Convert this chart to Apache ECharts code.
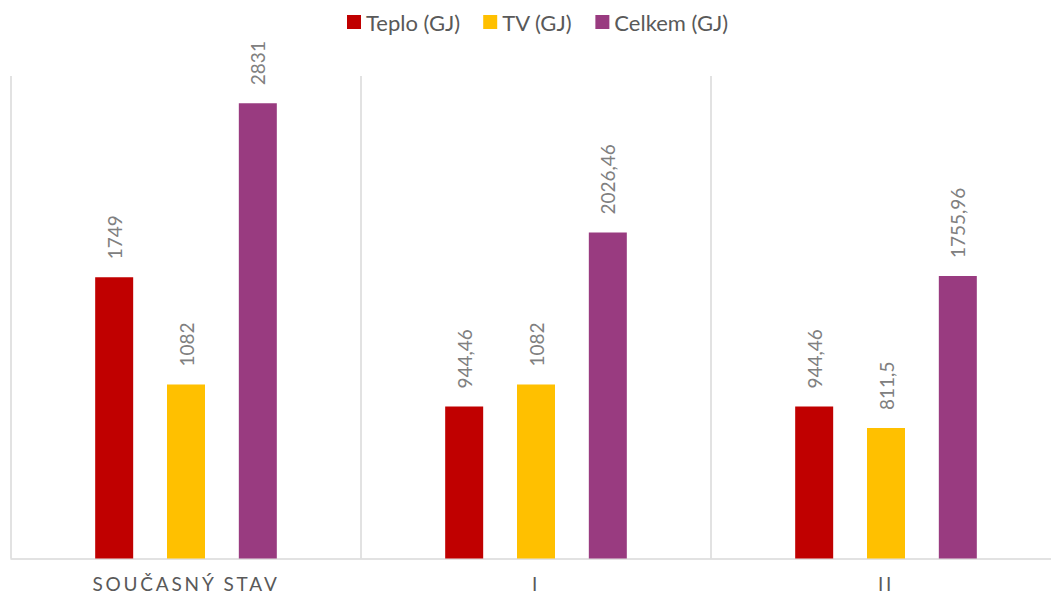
<!DOCTYPE html>
<html lang="cs">
<head>
    <meta charset="UTF-8">
    <title>Teplo a TV</title>
    <script src="https://cdn.jsdelivr.net/npm/echarts@6/dist/echarts.min.js"></script>
    <style>
        html, body {margin:0; padding:0; background:#fff; overflow:hidden}
    </style>
</head>
<body>
<div id="main" style="width: 1061px; height:596px;"></div>
<script>
    var categories = ['SOUČASNÝ STAV', 'I', 'II'];
    var teplo = [1749, 944.46, 944.46];
    var tv = [1082, 1082, 811.5];
    var celkem = [2831, 2026.46, 1755.96];
    var seriesNames = ['Teplo (GJ)', 'TV (GJ)', 'Celkem (GJ)'];
    var colors = ['#c00000', '#ffc000', '#993b80'];

    var font = 'Lato, "Noto Sans", sans-serif';
    var spacing = 2.8; // rozestup písmen u popisků osy

    function labelFmt(p) {
        return String(p.value).replace('.', ',');
    }

    function bar(name, data, color) {
        return {
            name: name,
            type: 'bar',
            barWidth: 38,
            barGap: '89%',
            itemStyle: {color: color},
            label: {
                show: true,
                position: 'top',
                rotate: 90,
                align: 'left',
                verticalAlign: 'middle',
                distance: 18,
                color: '#808080',
                fontFamily: font,
                fontSize: 19,
                formatter: labelFmt
            },
            data: data
        };
    }

    var chart = echarts.init(document.getElementById('main'), null, {renderer: 'svg'});
    chart.setOption({
        animation: false,
        color: colors,
        legend: {
            top: 11,
            left: 347,
            padding: 0,
            icon: 'rect',
            itemWidth: 14,
            itemHeight: 14,
            itemGap: 23,
            textStyle: {color: '#595959', fontFamily: font, fontSize: 22},
            data: seriesNames
        },
        grid: {left: 11, top: 76, right: 0, bottom: 37.5},
        xAxis: {
            type: 'category',
            data: categories,
            axisLine: {lineStyle: {color: '#d9d9d9', width: 1.5}},
            axisTick: {show: false},
            splitLine: {show: true, lineStyle: {color: '#d9d9d9', width: 1.5}},
            axisLabel: {color: '#595959', fontFamily: font, fontSize: 19, margin: 15}
        },
        yAxis: {
            type: 'value',
            min: 0,
            max: 3000,
            show: false,
            splitLine: {show: false}
        },
        series: [
            bar(seriesNames[0], teplo, colors[0]),
            bar(seriesNames[1], tv, colors[1]),
            bar(seriesNames[2], celkem, colors[2])
        ]
    });

    // prolozeni pismen u popisku osy x
    function spaceLetters() {
        var texts = document.querySelectorAll('#main svg text');
        for (var i = 0; i < texts.length; i++) {
            if (categories.indexOf(texts[i].textContent.trim()) >= 0) {
                texts[i].style.letterSpacing = spacing + 'px';
            }
        }
    }
    spaceLetters();
    chart.on('finished', spaceLetters);
</script>
</body>
</html>
